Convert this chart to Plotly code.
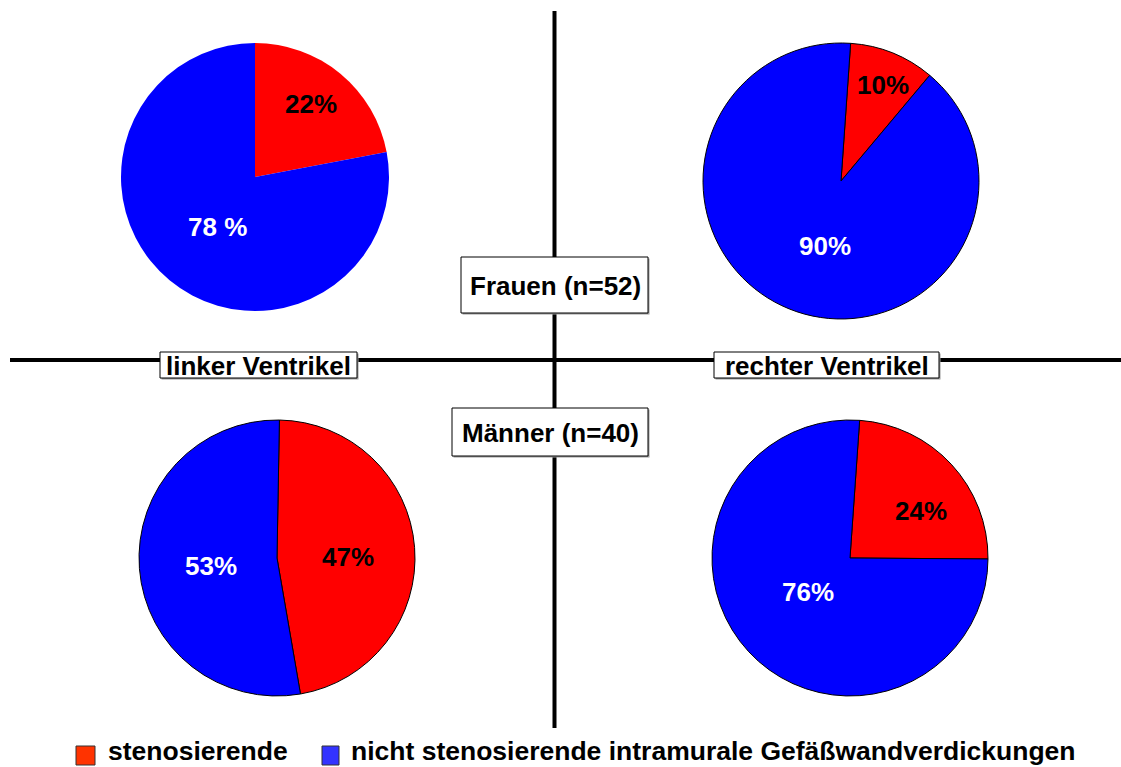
import plotly.graph_objects as go

W, H = 1121, 767

# ---- data ----
categories = ["stenosierende", "nicht stenosierende intramurale Gefäßwandverdickungen"]
frauen_links = [22, 78]
frauen_rechts = [10, 90]
maenner_links = [47, 53]
maenner_rechts = [24, 76]
labels_fl = ["22%", "78 %"]
labels_fr = ["10%", "90%"]
labels_ml = ["47%", "53%"]
labels_mr = ["24%", "76%"]

pie_colors = ["#FF0000", "#0000FF"]
legend_colors = ["#FF3300", "#3333FF"]
FONT = "Liberation Sans, Arial, sans-serif"


def px(x):
    return x / W


def py(y):
    return 1 - y / H


def dom(cx, cy, r):
    return dict(x=[px(cx - r), px(cx + r)], y=[py(cy + r), py(cy - r)])


fig = go.Figure()

pies = [
    (frauen_links, dom(255, 177, 134), 0, 0),
    (frauen_rechts, dom(841, 181, 138), 4, 1),
    (maenner_links, dom(277, 558, 138), 1, 1),
    (maenner_rechts, dom(850, 558, 138), 4, 1),
]
for vals, d, rot, lw in pies:
    fig.add_trace(go.Pie(
        labels=categories, values=vals, domain=d, rotation=rot,
        direction="clockwise", sort=False, textinfo="none",
        marker=dict(colors=pie_colors, line=dict(color="black", width=lw)),
        showlegend=False, hoverinfo="label+percent",
    ))

shapes = []
# cross lines
shapes.append(dict(type="line", xref="paper", yref="paper",
                   x0=px(554.5), x1=px(554.5), y0=py(11), y1=py(728),
                   line=dict(color="black", width=4)))
shapes.append(dict(type="line", xref="paper", yref="paper",
                   x0=px(10), x1=px(1121), y0=py(360), y1=py(360),
                   line=dict(color="black", width=4)))


def box(x0, y0, x1, y1):
    shapes.append(dict(type="rect", xref="paper", yref="paper",
                       x0=px(x0 + 1.5), x1=px(x1 + 1.5), y0=py(y0 + 1.5), y1=py(y1 + 1.5),
                       fillcolor="#9a9a9a", line=dict(width=0)))
    shapes.append(dict(type="rect", xref="paper", yref="paper",
                       x0=px(x0), x1=px(x1), y0=py(y0), y1=py(y1),
                       fillcolor="white", line=dict(color="black", width=1)))


box(461, 257, 648, 313)
box(452, 408, 648, 456)
box(160, 352, 357, 378)
box(714, 352, 939, 378)

# legend squares
shapes.append(dict(type="rect", xref="paper", yref="paper",
                   x0=px(76), x1=px(95), y0=py(746), y1=py(765),
                   fillcolor=legend_colors[0], line=dict(color="#333333", width=1)))
shapes.append(dict(type="rect", xref="paper", yref="paper",
                   x0=px(322), x1=px(339), y0=py(746), y1=py(765),
                   fillcolor=legend_colors[1], line=dict(color="#333333", width=1)))

annotations = []


def txt(t, x, y, color="black", size=26, xanchor="center"):
    annotations.append(dict(text="<b>" + t + "</b>", x=px(x), y=py(y), xref="paper", yref="paper",
                            showarrow=False, xanchor=xanchor, yanchor="middle",
                            font=dict(family=FONT, size=size, color=color)))


# slice labels
txt(labels_fl[0], 311, 104)
txt(labels_fl[1], 217, 227, "white")
txt(labels_fr[0], 883, 85)
txt(labels_fr[1], 825, 246, "white")
txt(labels_ml[0], 348, 557)
txt(labels_ml[1], 211, 566, "white")
txt(labels_mr[0], 921, 511)
txt(labels_mr[1], 808, 592, "white")

# box texts
txt("Frauen (n=52)", 555, 286)
txt("Männer (n=40)", 550, 433)
txt("linker Ventrikel", 258, 366)
txt("rechter Ventrikel", 827, 366)

# legend texts
txt(categories[0], 106, 751, size=26.5, xanchor="left")
txt(categories[1], 349, 751, size=26.5, xanchor="left")

fig.update_layout(
    width=W, height=H, margin=dict(l=0, r=0, t=0, b=0),
    paper_bgcolor="white", plot_bgcolor="white",
    shapes=shapes, annotations=annotations, showlegend=False,
)

fig.write_html("out.html", config={"displayModeBar": False},
               post_script="document.body.style.margin='0';document.body.style.overflow='hidden';")
